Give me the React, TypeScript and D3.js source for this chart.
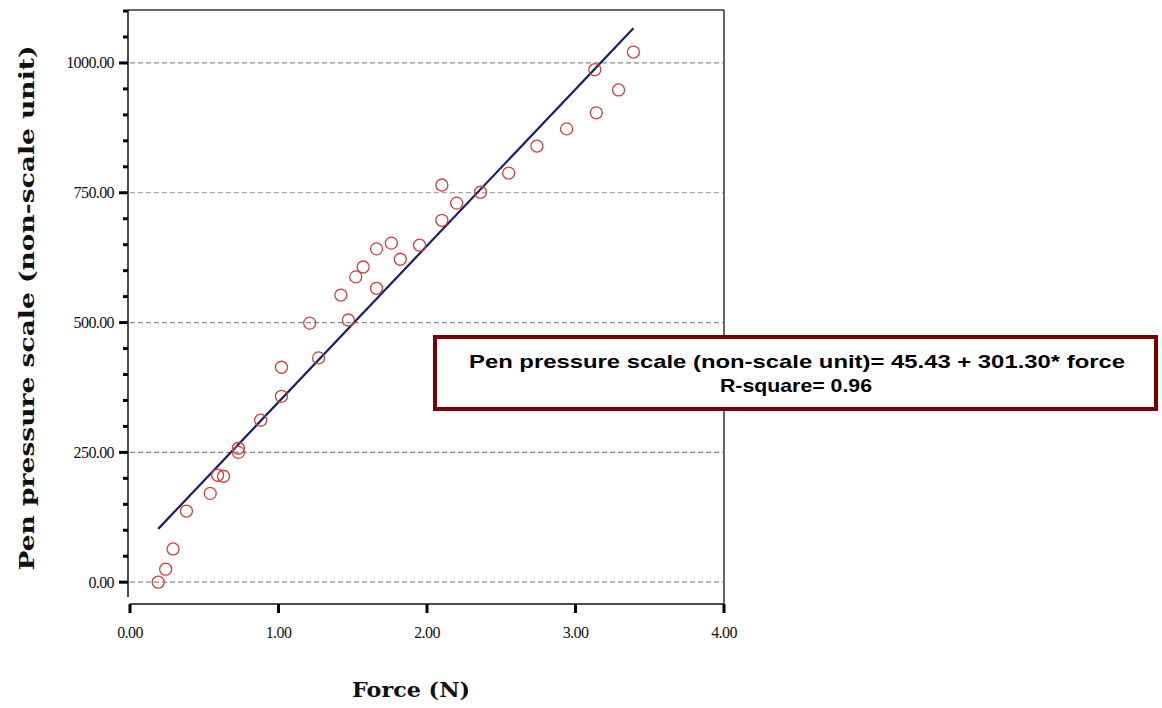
import React from "react";
import * as d3 from "d3";

const forceValues = [
  0.19, 0.24, 0.29, 0.38, 0.54, 0.59, 0.63, 0.73, 0.73, 0.88, 1.02, 1.02,
  1.21, 1.27, 1.42, 1.47, 1.52, 1.57, 1.66, 1.66, 1.76, 1.82, 1.95, 2.1, 2.1,
  2.2, 2.36, 2.55, 2.74, 2.94, 3.13, 3.14, 3.29, 3.39,
];
const pressureValues = [
  0, 25, 64, 137, 171, 206, 204, 250, 258, 312, 358, 414, 499, 432, 553, 505,
  588, 607, 566, 642, 653, 622, 649, 697, 765, 730, 751, 788, 840, 873, 987,
  904, 948, 1021,
];
const xTickValues = [0, 1, 2, 3, 4];
const xTickLabels = ["0.00", "1.00", "2.00", "3.00", "4.00"];
const yTickValues = [0, 250, 500, 750, 1000];
const yTickLabels = ["0.00", "250.00", "500.00", "750.00", "1000.00"];
const yMinorTicks = [50, 100, 150, 200, 300, 350, 400, 450, 550, 600, 650, 700, 800, 850, 900, 950, 1050, 1100];
const intercept = 45.43;
const slope = 301.3;
const xTitle = "Force (N)";
const yTitle = "Pen pressure scale (non-scale unit)";
const eqLine1 = "Pen pressure scale (non-scale unit)= 45.43 + 301.30* force";
const eqLine2 = "R-square= 0.96";

export default function App() {
  const x = d3.scaleLinear().domain([0, 4]).range([130, 724]);
  const y = d3.scaleLinear().domain([-42, 1102]).range([604, 10]);
  const xMin = d3.min(forceValues) as number;
  const xMax = d3.max(forceValues) as number;
  const lineGen = d3
    .line<number>()
    .x((d) => x(d))
    .y((d) => y(intercept + slope * d));
  const tickFont = "'Liberation Serif', serif";
  const titleFont = "'DejaVu Serif', serif";
  return (
    <svg
      width={1162}
      height={708}
      style={{ position: "absolute", left: 0, top: 0, background: "#fff" }}
    >
      {/* frame */}
      <line x1={128} x2={724} y1={10} y2={10} stroke="#333" strokeWidth={1.5} />
      <line x1={724} x2={724} y1={10} y2={604} stroke="#333" strokeWidth={1.5} />
      <line x1={128} x2={128} y1={10} y2={597} stroke="#111" strokeWidth={1.5} />
      <line x1={130} x2={724} y1={604} y2={604} stroke="#111" strokeWidth={1.5} />
      {/* grid */}
      {yTickValues.map((v) => (
        <line
          key={"g" + v}
          x1={130}
          x2={723}
          y1={y(v)}
          y2={y(v)}
          stroke="#8a8a8a"
          strokeWidth={1.2}
          strokeDasharray="5,3"
        />
      ))}
      {/* y ticks */}
      {yTickValues.map((v, i) => (
        <g key={"yt" + v}>
          <line x1={119} x2={128} y1={y(v)} y2={y(v)} stroke="#000" strokeWidth={3} />
          <text
            x={114}
            y={y(v) + 5.5}
            textAnchor="end"
            fontFamily={tickFont}
            fontSize={16}
            letterSpacing={-0.6}
            fill="#111"
          >
            {yTickLabels[i]}
          </text>
        </g>
      ))}
      {yMinorTicks.map((v) => (
        <line key={"ym" + v} x1={123} x2={128} y1={y(v)} y2={y(v)} stroke="#000" strokeWidth={3} />
      ))}
      {/* x ticks */}
      {xTickValues.map((v, i) => (
        <g key={"xt" + v}>
          <line x1={x(v)} x2={x(v)} y1={604} y2={613} stroke="#000" strokeWidth={3} />
          <text
            x={x(v)}
            y={638}
            textAnchor="middle"
            fontFamily={tickFont}
            fontSize={16}
            letterSpacing={-0.6}
            fill="#111"
          >
            {xTickLabels[i]}
          </text>
        </g>
      ))}
      {/* regression line */}
      <path d={lineGen([xMin, xMax]) || ""} fill="none" stroke="#1c1c6b" strokeWidth={2.2} />
      {/* points */}
      {forceValues.map((f, i) => (
        <circle
          key={"p" + i}
          cx={x(f)}
          cy={y(pressureValues[i])}
          r={6}
          fill="none"
          stroke="#d2403c"
          strokeWidth={1.3}
        />
      ))}
      {/* axis titles */}
      <text
        x={411}
        y={697}
        textAnchor="middle"
        fontFamily={titleFont}
        fontWeight="bold"
        fontSize={21}
        textLength={118}
        lengthAdjust="spacingAndGlyphs"
        fill="#111"
      >
        {xTitle}
      </text>
      <text
        transform="translate(34,308) rotate(-90)"
        textAnchor="middle"
        fontFamily={titleFont}
        fontWeight="bold"
        fontSize={21}
        textLength={525}
        lengthAdjust="spacingAndGlyphs"
        fill="#111"
      >
        {yTitle}
      </text>
      {/* equation box */}
      <rect x={435} y={337} width={721} height={72} fill="#fff" stroke="#7a0000" strokeWidth={4} />
      <text
        x={797}
        y={368}
        textAnchor="middle"
        fontFamily="'Liberation Sans', Arial, sans-serif"
        fontWeight="bold"
        fontSize={19}
        textLength={656}
        lengthAdjust="spacingAndGlyphs"
        fill="#000"
      >
        {eqLine1}
      </text>
      <text
        x={796}
        y={392}
        textAnchor="middle"
        fontFamily="'Liberation Sans', Arial, sans-serif"
        fontWeight="bold"
        fontSize={19}
        textLength={152}
        lengthAdjust="spacingAndGlyphs"
        fill="#000"
      >
        {eqLine2}
      </text>
    </svg>
  );
}
